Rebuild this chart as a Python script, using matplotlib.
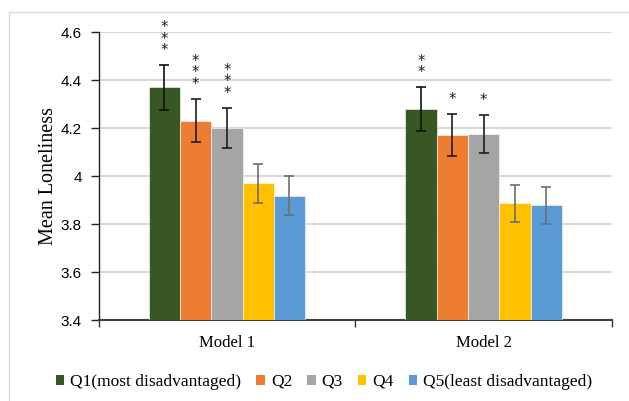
import matplotlib
matplotlib.use("Agg")
import matplotlib.pyplot as plt
from matplotlib.patches import Rectangle, Patch
import numpy as np

categories = ["Model 1", "Model 2"]
series = ["Q1(most disadvantaged)", "Q2", "Q3", "Q4", "Q5(least disadvantaged)"]
colors = ["#385723", "#ED7D31", "#A5A5A5", "#FFC000", "#5B9BD5"]
err_colors = ["#111111", "#1e1e1e", "#1e1e1e", "#6e6e6e", "#6e6e6e"]
# values[series][category]
values = [
    [4.369, 4.279],
    [4.231, 4.171],
    [4.200, 4.174],
    [3.969, 3.886],
    [3.918, 3.879],
]
errors = [
    [0.092, 0.090],
    [0.090, 0.086],
    [0.084, 0.079],
    [0.082, 0.077],
    [0.080, 0.077],
]
stars = [
    ["***", "**"],
    ["***", "*"],
    ["***", "*"],
    ["", ""],
    ["", ""],
]
yticks = [3.4, 3.6, 3.8, 4.0, 4.2, 4.4, 4.6]
ytick_labels = ["3.4", "3.6", "3.8", "4", "4.2", "4.4", "4.6"]

fig = plt.figure(figsize=(6.29, 4.01), dpi=100)
W, H = 629, 401
ax = fig.add_axes([98.5 / W, (H - 320) / H, (612 - 98.5) / W, 288 / H])

# outer light border
fig.patches.append(Rectangle((9 / W, -0.1), 1.2, (H - 12) / H + 0.1,
                             transform=fig.transFigure, fill=False,
                             edgecolor="#D9D9D9", linewidth=1.0, zorder=-5))

x = np.arange(len(categories))
bw = 0.1218
n = len(series)
for i in range(n):
    pos = x + (i - (n - 1) / 2) * bw
    ax.bar(pos, [v - 3.4 for v in values[i]], bottom=3.4, width=bw,
           color=colors[i], edgecolor="white", linewidth=0.4, zorder=3)
    ax.errorbar(pos, values[i], yerr=errors[i], fmt="none",
                ecolor=err_colors[i], elinewidth=1.2, capsize=3.8,
                capthick=1.2, zorder=4)
    for j in range(len(categories)):
        s = stars[i][j]
        if not s:
            continue
        top = values[i][j] + errors[i][j]
        ax.annotate("\n".join(s), xy=(pos[j], top), xytext=(0, 7),
                    textcoords="offset pixels", ha="center", va="bottom",
                    fontsize=10.5, family="DejaVu Sans", linespacing=0.72,
                    color="#1a1a1a", zorder=5, annotation_clip=False)

ax.set_ylim(3.4, 4.6)
ax.set_xlim(-0.5, 1.5)
ax.set_yticks(yticks)
ax.set_yticklabels(ytick_labels, family="Liberation Sans", fontsize=11)
ax.yaxis.grid(True, color="#D9D9D9", linewidth=1.5, zorder=0)
ax.set_axisbelow(True)

ax.set_xticks([-0.5, 0.5, 1.5])
ax.set_xticklabels([])
ax.set_xticks(x, minor=True)
ax.set_xticklabels(categories, minor=True, family="Liberation Serif", fontsize=12)
ax.tick_params(axis="x", which="major", length=5, width=1, color="#333333", direction="out")
ax.tick_params(axis="x", which="minor", length=0, pad=11)
ax.tick_params(axis="y", length=6, width=1, color="#222222", pad=6)

for sp in ["top", "right"]:
    ax.spines[sp].set_visible(False)
ax.spines["left"].set_color("#222222")
ax.spines["left"].set_linewidth(1.0)
ax.spines["bottom"].set_color("#404040")
ax.spines["bottom"].set_linewidth(1.5)

ax.set_ylabel("Mean Loneliness", family="Liberation Serif", fontsize=14.5, labelpad=2)

handles = [Patch(facecolor=c, edgecolor="none") for c in colors]
fig.legend(handles, series, loc="center", bbox_to_anchor=(324 / W, (H - 382) / H),
           ncol=5, frameon=False, prop={"family": "Liberation Serif", "size": 12.5},
           handlelength=0.5, handleheight=0.5, handletextpad=0.35,
           columnspacing=0.85, borderpad=0, borderaxespad=0)

fig.savefig("out.png", dpi=100)
